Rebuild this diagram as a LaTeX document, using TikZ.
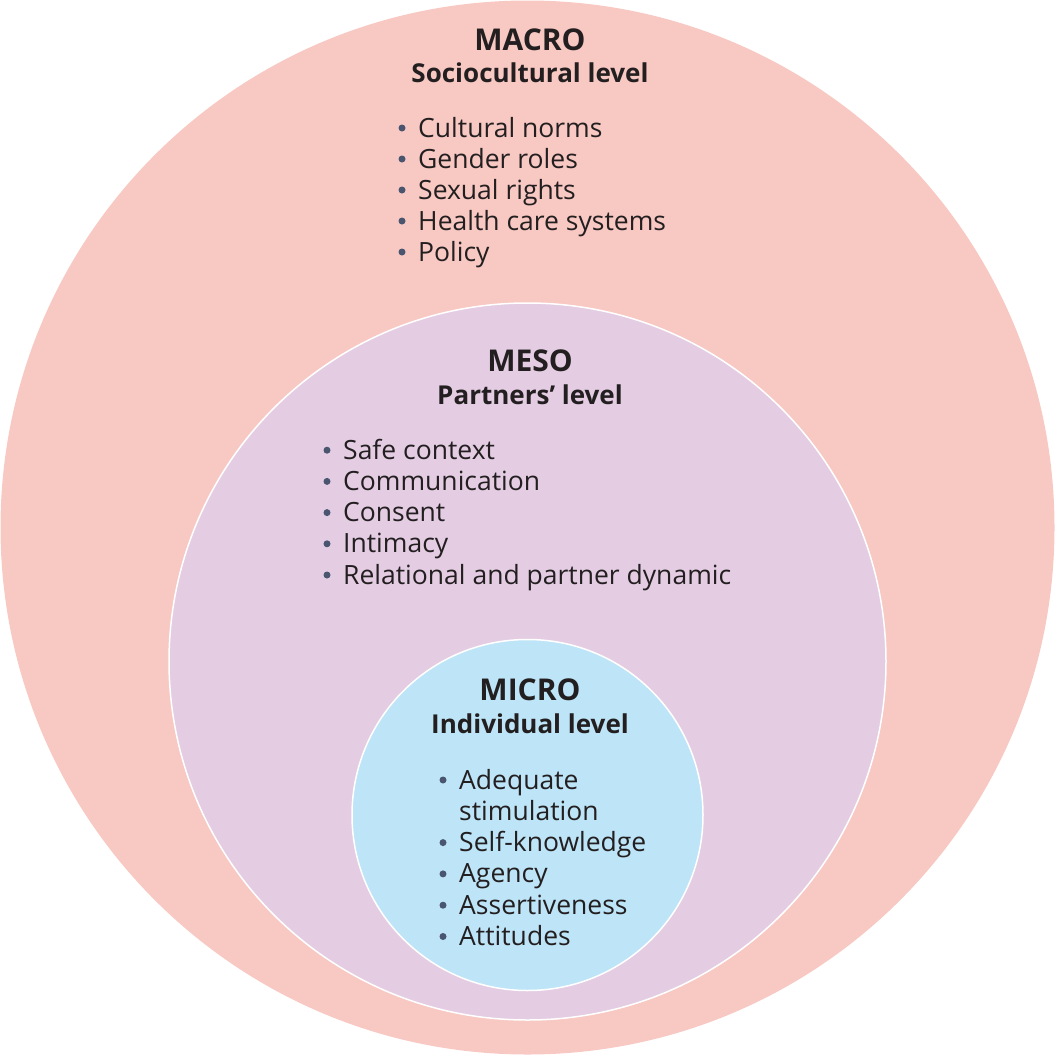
\documentclass[tikz,border=0pt]{standalone}
\usepackage{fontspec}
\setmainfont{Open Sans}
\definecolor{macroc}{HTML}{F8C8C2}
\definecolor{mesoc}{HTML}{E4CDE3}
\definecolor{microc}{HTML}{BDE4F7}
\definecolor{bul}{HTML}{4A5670}
\definecolor{txt}{HTML}{231F20}
\begin{document}
\begin{tikzpicture}[x=1pt,y=-1pt,
  ring/.style={draw=white,line width=1.5pt},
  ttl/.style={font=\fontsize{30}{32}\selectfont\bfseries,text=txt,inner sep=0pt,anchor=base},
  sub/.style={font=\fontsize{26}{28}\selectfont\bfseries,text=txt,inner sep=0pt,anchor=base},
  itm/.style={font=\fontsize{26.5}{28}\selectfont,text=txt,anchor=base west,inner sep=0pt},
  dot/.style={fill=bul,circle,inner sep=0pt,minimum size=7pt}]
\useasboundingbox (0,0) rectangle (1055,1055);
\fill[macroc] (527.5,527.5) circle (527);
\filldraw[fill=mesoc,ring] (527.5,661.5) circle (358.5);
\filldraw[fill=microc,ring] (527.5,815) circle (175.5);
\node[ttl] (macro) at (530,50) {MACRO};
\node[sub] (macros) at (530,82) {Sociocultural level};
\foreach \t [count=\i] in {Cultural norms,Gender roles,Sexual rights,Health care systems,Policy}{
  \node[dot] (ma\i) at (402,97+31*\i) {};
  \node[itm] (mat\i) at (418,106+31*\i) {\t};
}
\node[ttl] (meso) at (530,371) {MESO};
\node[sub] (mesos) at (530,404) {Partners’ level};
\foreach \t [count=\i] in {Safe context,Communication,Consent,Intimacy,Relational and partner dynamic}{
  \node[dot] (me\i) at (327,419+31.2*\i) {};
  \node[itm] (met\i) at (343,428+31.2*\i) {\t};
}
\node[ttl] (micro) at (530,700) {MICRO};
\node[sub] (micros) at (530,733) {Individual level};
\node[dot] (mi1) at (443,780) {};
\node[itm] (mit1) at (459,789) {Adequate};
\node[itm] (mit1b) at (459,820) {stimulation};
\foreach \t [count=\i from 2] in {Self-knowledge,Agency,Assertiveness,Attitudes}{
  \node[dot] (mi\i) at (443,780+31.3*\i) {};
  \node[itm] (mit\i) at (459,789+31.3*\i) {\t};
}
\end{tikzpicture}
\end{document}
